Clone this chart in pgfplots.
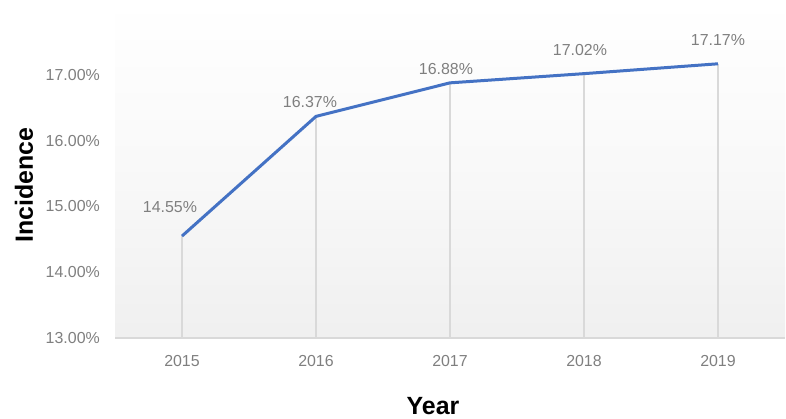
\documentclass[border=0pt]{standalone}
\usepackage{pgfplots}
\pgfplotsset{compat=1.18}
\usepackage{pgfplotstable}
\usepackage{fontspec}
\setmainfont{Liberation Sans}

\definecolor{lineblue}{HTML}{4472C4}
\definecolor{ticktext}{HTML}{7F7F7F}
\definecolor{rulegray}{HTML}{D9D9D9}

% year index, incidence (%), label offsets (bp)
\pgfplotstableread{
x y     dx  dy
0 14.55 -12 29
1 16.37 -6  14
2 16.88 -4  14
3 17.02 -4  24
4 17.17  0  24
}\incidence

\begin{document}
\begin{tikzpicture}
\useasboundingbox (0,0) rectangle (786bp,419bp);
\begin{axis}[
  at={(115bp,81bp)}, anchor=south west,
  scale only axis,
  width=670bp, height=338bp,
  xmin=-0.5, xmax=4.5,
  ymin=13, ymax=18.14,
  xtick={0,1,2,3,4},
  xticklabels={2015,2016,2017,2018,2019},
  ytick={13,14,15,16,17},
  major tick length=0pt,
  axis x line*=bottom,
  axis y line*=left,
  x axis line style={draw=rulegray, line width=1.5bp},
  y axis line style={draw=none},
  axis background/.style={top color=white, bottom color=black!6, middle color=black!2.5},
  /pgf/number format/assume math mode=true,
  yticklabel={\pgfmathprintnumber[fixed,fixed zerofill,precision=2]{\tick}\%},
  ticklabel style={font=\fontsize{16}{19}\selectfont, text=ticktext, inner sep=0pt},
  yticklabel style={anchor=east, xshift=-15bp},
  xticklabel style={anchor=north, yshift=-17bp},
  xlabel={Year},
  ylabel={Incidence},
  label style={font=\fontsize{25}{30}\selectfont\bfseries, text=black},
  xlabel style={at={(axis description cs:0.4746,-0.2278)}, anchor=base},
  ylabel style={at={(axis description cs:-0.1224,0.4527)}, anchor=base},
  clip=true,
]
% drop lines from each year down to the baseline
\addplot[ycomb, draw=rulegray, line width=1.2bp, mark=none, forget plot]
  table[x=x, y=y] {\incidence};
% incidence line with value labels
\addplot[
  draw=lineblue, line width=3bp, mark=none,
  point meta=y,
  visualization depends on={\thisrow{dx} \as \dx},
  visualization depends on={\thisrow{dy} \as \dy},
  nodes near coords={\pgfmathprintnumber[fixed,fixed zerofill,precision=2]{\pgfplotspointmeta}\%},
  every node near coord/.style={anchor=center, xshift=\dx bp, yshift=\dy bp,
    font=\fontsize{16}{19}\selectfont, text=ticktext, inner sep=0pt},
] table[x=x, y=y] {\incidence};
\end{axis}
\end{tikzpicture}
\end{document}
